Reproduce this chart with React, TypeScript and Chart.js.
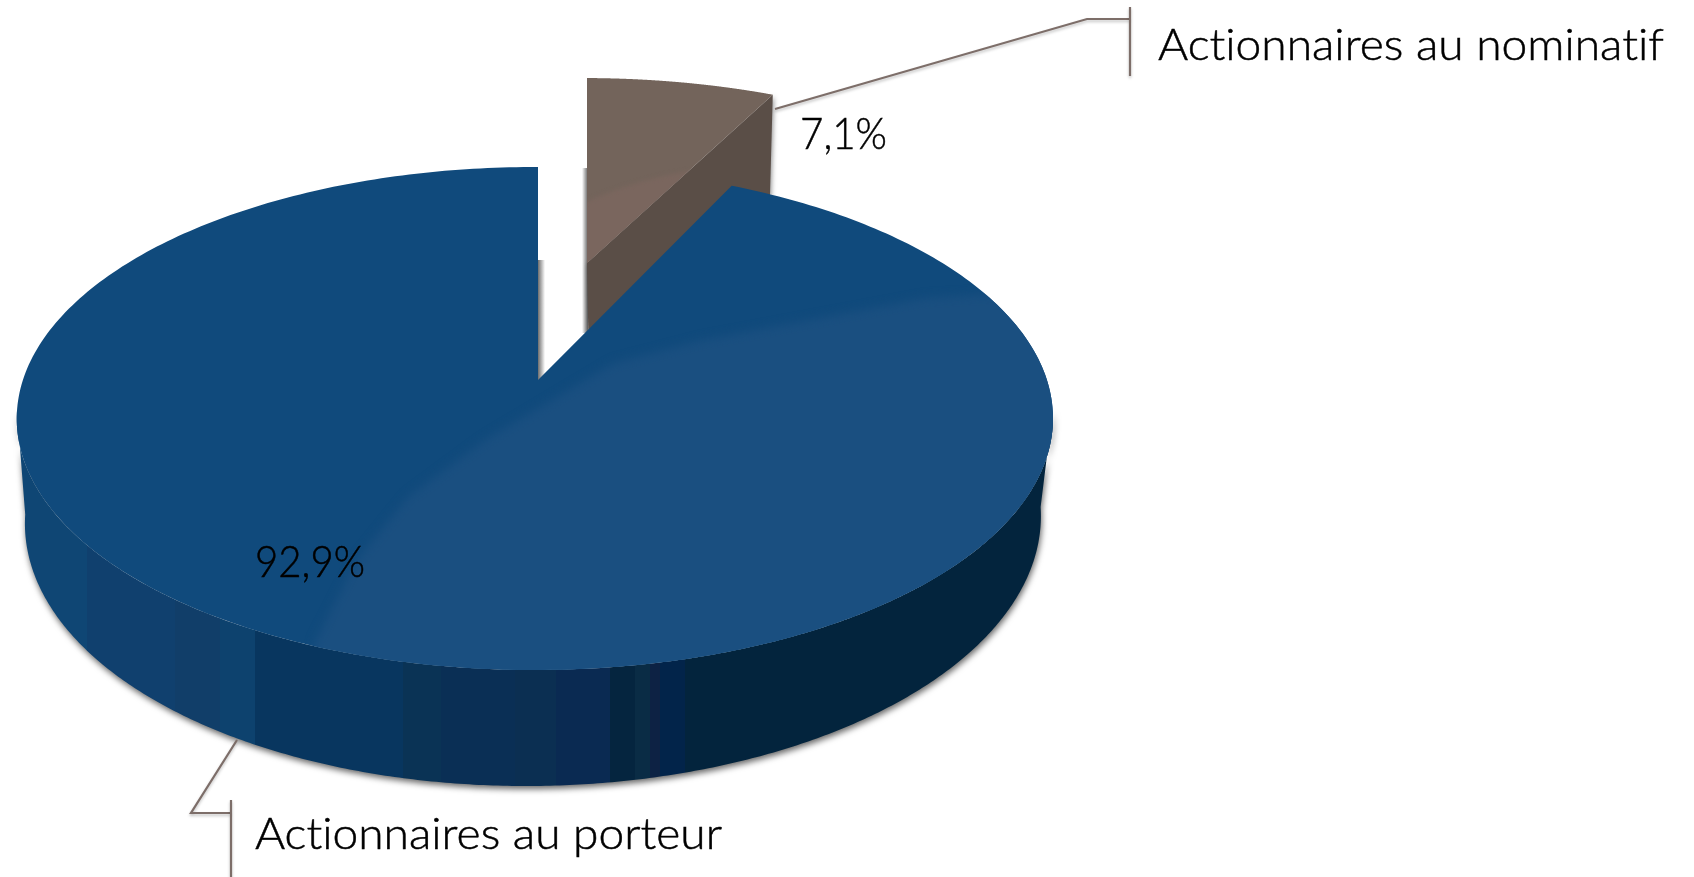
import React, { useEffect, useRef } from "react";
import { Chart, registerables } from "chart.js";

Chart.register(...registerables);

const categories = ["Actionnaires au nominatif", "Actionnaires au porteur"];
const shares = [7.1, 92.9];
const topColors = ["#73645b", "#104a7c"];
const explodeOffsets = [183, 0];

// Perspective projection of the pie's unit disc on to the page
const TOP = { x: 538, y: 380, a: 512, b: 245.6, k: 0 };
const BASE = { x: 536, y: 479, a: 502, b: 260, k: 0.007 };
const EXPLODED = { x: 587, y: 380, a: 525, b: 245.6, k: 0 };
const TILT = 0.153;
const SKEW = 0.006;

const project = (ring: any, u: number, v: number) => {
  const w = 1 - TILT * v + SKEW * u;
  const x = ring.a * u / w;
  return [ring.x + x, ring.y + ring.b * v / w - ring.k * x];
};

const sidePalette: [number, string][] = [
  [16, "#0f4674"], [87, "#10406e"], [175, "#113e69"], [220, "#0d426e"], [255, "#08365f"],
  [403, "#0a3355"], [441, "#0a2f55"], [515, "#0b2f52"], [556, "#0a2a52"], [610, "#05253f"],
  [635, "#0a2c45"], [650, "#0d2244"], [660, "#02244a"], [685, "#03243d"], [1060, "#03243d"],
];

const brownWall = "#5a4e47";
const brownLight = "#7a665e";
const blueLight = "#1a4f80";
const leader = "#7d6e69";
const lightBand = [[1065, 290], [926, 298], [703, 340], [614, 363], [485, 440], [408, 497], [357, 560], [316, 640], [300, 700], [1065, 700]];

const trace = (ctx: CanvasRenderingContext2D, pts: number[][]) => {
  ctx.beginPath();
  pts.forEach((p, i) => (i ? ctx.lineTo(p[0], p[1]) : ctx.moveTo(p[0], p[1])));
  ctx.closePath();
};

const facePoints = (arc: any, ring: any, e: number) => {
  const mid = (arc.startAngle + arc.endAngle) / 2;
  const dv = e * Math.sin(mid);
  const pts = [project(ring, 0, dv)];
  const n = 360;
  for (let i = 0; i <= n; i++) {
    const t = arc.startAngle + (arc.endAngle - arc.startAngle) * (i / n);
    pts.push(project(ring, Math.cos(t), dv + Math.sin(t)));
  }
  return pts;
};

const drawBrown = (ctx: CanvasRenderingContext2D, arc: any) => {
  const e = arc.options.offset / arc.outerRadius;
  const pts = facePoints(arc, EXPLODED, e);
  const apex = pts[0];
  const first = pts[1];
  const corner = pts[pts.length - 1];
  const depth = 108;
  // soft shadow on the left of the slice
  const g = ctx.createLinearGradient(first[0] - 5, 0, first[0] + 1, 0);
  g.addColorStop(0, "rgba(60,60,60,0)");
  g.addColorStop(1, "rgba(60,60,60,0.8)");
  ctx.fillStyle = g;
  ctx.fillRect(first[0] - 5, first[1] + 90, 6, 165);
  // cut face
  ctx.save();
  ctx.shadowColor = "rgba(0,0,0,0.45)";
  ctx.shadowBlur = 5;
  ctx.shadowOffsetX = 1;
  ctx.shadowOffsetY = 2;
  ctx.fillStyle = brownWall;
  trace(ctx, [apex, corner, [corner[0] - 3, corner[1] + depth], [apex[0] + 2, apex[1] + depth]]);
  ctx.fill();
  ctx.restore();
  // top face
  ctx.fillStyle = arc.options.backgroundColor;
  trace(ctx, pts);
  ctx.fill();
  ctx.save();
  trace(ctx, pts);
  ctx.clip();
  ctx.filter = "blur(2px)";
  ctx.fillStyle = brownLight;
  ctx.beginPath();
  ctx.moveTo(first[0] - 10, first[1] + 128);
  ctx.quadraticCurveTo(first[0] + 50, first[1] + 100, first[0] + 110, first[1] + 92);
  ctx.lineTo(first[0] + 110, first[1] + 300);
  ctx.lineTo(first[0] - 10, first[1] + 300);
  ctx.closePath();
  ctx.fill();
  ctx.restore();
};

const drawBlue = (ctx: CanvasRenderingContext2D, arc: any) => {
  const pts = facePoints(arc, TOP, 0);
  const apex = pts[0];
  // soft shadow in the gap, along the slice's straight edge
  const g = ctx.createLinearGradient(apex[0], 0, apex[0] + 7, 0);
  g.addColorStop(0, "rgba(60,60,60,0.75)");
  g.addColorStop(1, "rgba(60,60,60,0)");
  ctx.fillStyle = g;
  ctx.fillRect(apex[0], apex[1] - 120, 7, 120);
  // outer wall
  const band = ctx.createLinearGradient(16, 0, 1060, 0);
  sidePalette.forEach(([x, c], i) => {
    const at = (x - 16) / (1060 - 16);
    if (i > 0) band.addColorStop(at, sidePalette[i - 1][1]);
    band.addColorStop(at, c);
  });
  const from = Math.asin(0.12);
  const to = Math.PI - from;
  const rim: number[][] = [];
  const foot: number[][] = [];
  const n = 360;
  for (let i = 0; i <= n; i++) {
    const t = from + (to - from) * (i / n);
    rim.push(project(TOP, Math.cos(t), Math.sin(t)));
    foot.push(project(BASE, Math.cos(t), Math.sin(t)));
  }
  ctx.save();
  ctx.shadowColor = "rgba(0,0,0,0.6)";
  ctx.shadowBlur = 6;
  ctx.shadowOffsetX = 1;
  ctx.shadowOffsetY = 3;
  ctx.fillStyle = band;
  trace(ctx, rim.concat(foot.reverse()));
  ctx.fill();
  ctx.restore();
  // top face
  ctx.fillStyle = arc.options.backgroundColor;
  trace(ctx, pts);
  ctx.fill();
  ctx.save();
  trace(ctx, pts);
  ctx.clip();
  ctx.filter = "blur(5px)";
  ctx.fillStyle = blueLight;
  trace(ctx, lightBand);
  ctx.fill();
  ctx.restore();
};

const fitText = (ctx: CanvasRenderingContext2D, text: string, x: number, y: number, width: number, size: number) => {
  ctx.save();
  ctx.font = `300 ${size}px Lato`;
  (ctx as any).letterSpacing = "0.01px";
  ctx.fillStyle = "#000";
  ctx.strokeStyle = "#000";
  ctx.lineWidth = 0.5;
  ctx.textBaseline = "alphabetic";
  ctx.textAlign = "left";
  const w = ctx.measureText(text).width;
  ctx.translate(x, y);
  ctx.scale(width / w, 1);
  ctx.fillText(text, 0, 0);
  ctx.strokeText(text, 0, 0);
  ctx.restore();
};

const polyline = (ctx: CanvasRenderingContext2D, pts: number[][]) => {
  ctx.beginPath();
  pts.forEach((p, i) => (i ? ctx.lineTo(p[0], p[1]) : ctx.moveTo(p[0], p[1])));
  ctx.stroke();
};

const pie3d = {
  id: "pie3d",
  beforeDatasetDraw(chart: any) {
    const ctx = chart.ctx;
    const arcs = chart.getDatasetMeta(0).data;
    drawBrown(ctx, arcs[0]);
    drawBlue(ctx, arcs[1]);
    return false;
  },
  afterDraw(chart: any) {
    const ctx: CanvasRenderingContext2D = chart.ctx;
    const pct = shares.map((v) => `${v.toFixed(1).replace(".", ",")}%`);
    ctx.save();
    ctx.strokeStyle = leader;
    ctx.lineWidth = 2.2;
    ctx.shadowColor = "rgba(0,0,0,0.25)";
    ctx.shadowBlur = 3;
    ctx.shadowOffsetY = 2;
    polyline(ctx, [[775, 109], [1087, 19], [1130, 19]]);
    polyline(ctx, [[1130, 7], [1130, 76]]);
    polyline(ctx, [[237, 740], [191, 813], [231, 813]]);
    polyline(ctx, [[231, 800], [231, 877]]);
    ctx.restore();
    fitText(ctx, categories[0], 1158, 60, 506, 44);
    fitText(ctx, categories[1], 255, 849, 467, 44);
    fitText(ctx, pct[0], 800, 149, 87, 44);
    fitText(ctx, pct[1], 255, 577, 110, 44);
  },
};

export default function App() {
  const ref = useRef<HTMLCanvasElement>(null);
  useEffect(() => {
    const chart = new Chart(ref.current!, {
      type: "pie",
      data: {
        labels: categories,
        datasets: [{ data: shares, backgroundColor: topColors, offset: explodeOffsets, borderWidth: 0 }],
      },
      options: {
        responsive: false,
        animation: false,
        events: [],
        plugins: { legend: { display: false }, tooltip: { enabled: false } },
      },
      plugins: [pie3d],
    } as any);
    return () => chart.destroy();
  }, []);
  return (
    <canvas
      ref={ref}
      width={1694}
      height={877}
      style={{ position: "fixed", left: 0, top: 0, width: 1694, height: 877, display: "block" }}
    />
  );
}
